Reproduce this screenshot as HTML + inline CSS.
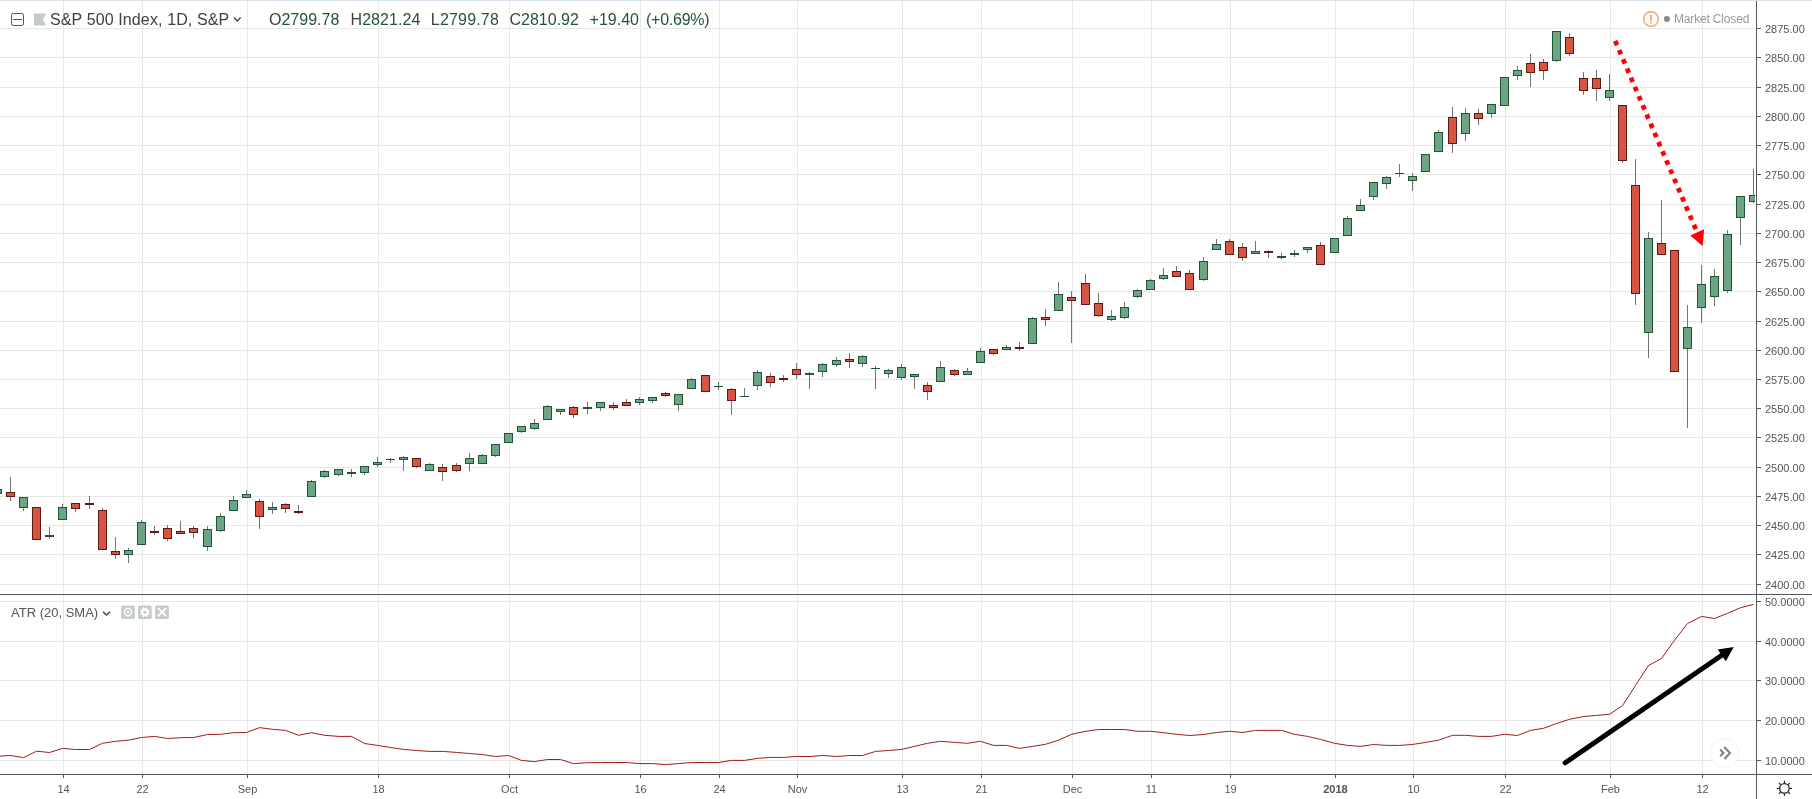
<!DOCTYPE html>
<html><head><meta charset="utf-8"><title>S&amp;P 500 Index chart</title>
<style>
html,body{margin:0;padding:0;background:#fff;}
body{width:1812px;height:799px;overflow:hidden;position:relative;font-family:"Liberation Sans",sans-serif;}
svg text{font-family:"Liberation Sans",sans-serif;}
</style></head><body>
<svg width="1812" height="799" viewBox="0 0 1812 799" style="position:absolute;left:0;top:0;will-change:transform">
<rect width="1812" height="799" fill="#fff"/>
<rect x="0" y="0" width="1812" height="1" fill="#dcdfec"/>
<g fill="#e8e8e8" shape-rendering="crispEdges">
<rect x="0" y="28" width="1755" height="1"/>
<rect x="0" y="57" width="1755" height="1"/>
<rect x="0" y="87" width="1755" height="1"/>
<rect x="0" y="116" width="1755" height="1"/>
<rect x="0" y="145" width="1755" height="1"/>
<rect x="0" y="174" width="1755" height="1"/>
<rect x="0" y="204" width="1755" height="1"/>
<rect x="0" y="233" width="1755" height="1"/>
<rect x="0" y="262" width="1755" height="1"/>
<rect x="0" y="291" width="1755" height="1"/>
<rect x="0" y="321" width="1755" height="1"/>
<rect x="0" y="350" width="1755" height="1"/>
<rect x="0" y="379" width="1755" height="1"/>
<rect x="0" y="408" width="1755" height="1"/>
<rect x="0" y="437" width="1755" height="1"/>
<rect x="0" y="467" width="1755" height="1"/>
<rect x="0" y="496" width="1755" height="1"/>
<rect x="0" y="525" width="1755" height="1"/>
<rect x="0" y="554" width="1755" height="1"/>
<rect x="0" y="584" width="1755" height="1"/>
<rect x="0" y="601" width="1755" height="1"/>
<rect x="0" y="641" width="1755" height="1"/>
<rect x="0" y="680" width="1755" height="1"/>
<rect x="0" y="720" width="1755" height="1"/>
<rect x="0" y="760" width="1755" height="1"/>
<rect x="63" y="1" width="1" height="773"/>
<rect x="142" y="1" width="1" height="773"/>
<rect x="247" y="1" width="1" height="773"/>
<rect x="378" y="1" width="1" height="773"/>
<rect x="509" y="1" width="1" height="773"/>
<rect x="640" y="1" width="1" height="773"/>
<rect x="719" y="1" width="1" height="773"/>
<rect x="797" y="1" width="1" height="773"/>
<rect x="902" y="1" width="1" height="773"/>
<rect x="981" y="1" width="1" height="773"/>
<rect x="1072" y="1" width="1" height="773"/>
<rect x="1151" y="1" width="1" height="773"/>
<rect x="1230" y="1" width="1" height="773"/>
<rect x="1335" y="1" width="1" height="773"/>
<rect x="1413" y="1" width="1" height="773"/>
<rect x="1505" y="1" width="1" height="773"/>
<rect x="1610" y="1" width="1" height="773"/>
<rect x="1702" y="1" width="1" height="773"/>
</g>
<defs><clipPath id="cp"><rect x="0" y="1" width="1755" height="593"/></clipPath><clipPath id="cp2"><rect x="0" y="595" width="1755" height="179"/></clipPath></defs>
<g clip-path="url(#cp)" shape-rendering="crispEdges">
<rect x="-3" y="489" width="1" height="5" fill="#737375"/>
<rect x="-7" y="489" width="9" height="5" fill="#225437"/>
<rect x="-6" y="490" width="7" height="3" fill="#6ba583"/>
<rect x="10" y="477" width="1" height="24" fill="#737375"/>
<rect x="6" y="492" width="9" height="5" fill="#5b1a13"/>
<rect x="7" y="493" width="7" height="3" fill="#d75442"/>
<rect x="23" y="497" width="1" height="14" fill="#737375"/>
<rect x="19" y="497" width="9" height="11" fill="#225437"/>
<rect x="20" y="498" width="7" height="9" fill="#6ba583"/>
<rect x="36" y="507" width="1" height="33" fill="#737375"/>
<rect x="32" y="507" width="9" height="33" fill="#5b1a13"/>
<rect x="33" y="508" width="7" height="31" fill="#d75442"/>
<rect x="49" y="527" width="1" height="12" fill="#737375"/>
<rect x="45" y="535" width="9" height="2" fill="#225437"/>
<rect x="62" y="504" width="1" height="16" fill="#737375"/>
<rect x="58" y="507" width="9" height="13" fill="#225437"/>
<rect x="59" y="508" width="7" height="11" fill="#6ba583"/>
<rect x="75" y="503" width="1" height="9" fill="#737375"/>
<rect x="71" y="503" width="9" height="6" fill="#5b1a13"/>
<rect x="72" y="504" width="7" height="4" fill="#d75442"/>
<rect x="89" y="496" width="1" height="13" fill="#737375"/>
<rect x="85" y="503" width="9" height="2" fill="#5b1a13"/>
<rect x="102" y="508" width="1" height="42" fill="#737375"/>
<rect x="98" y="510" width="9" height="40" fill="#5b1a13"/>
<rect x="99" y="511" width="7" height="38" fill="#d75442"/>
<rect x="115" y="537" width="1" height="22" fill="#737375"/>
<rect x="111" y="551" width="9" height="4" fill="#5b1a13"/>
<rect x="112" y="552" width="7" height="2" fill="#d75442"/>
<rect x="128" y="548" width="1" height="15" fill="#737375"/>
<rect x="124" y="550" width="9" height="5" fill="#225437"/>
<rect x="125" y="551" width="7" height="3" fill="#6ba583"/>
<rect x="141" y="520" width="1" height="25" fill="#737375"/>
<rect x="137" y="522" width="9" height="23" fill="#225437"/>
<rect x="138" y="523" width="7" height="21" fill="#6ba583"/>
<rect x="154" y="526" width="1" height="9" fill="#737375"/>
<rect x="150" y="531" width="9" height="2" fill="#5b1a13"/>
<rect x="167" y="525" width="1" height="16" fill="#737375"/>
<rect x="163" y="528" width="9" height="11" fill="#5b1a13"/>
<rect x="164" y="529" width="7" height="9" fill="#d75442"/>
<rect x="180" y="521" width="1" height="13" fill="#737375"/>
<rect x="176" y="531" width="9" height="3" fill="#5b1a13"/>
<rect x="177" y="532" width="7" height="1" fill="#d75442"/>
<rect x="193" y="526" width="1" height="12" fill="#737375"/>
<rect x="189" y="528" width="9" height="5" fill="#5b1a13"/>
<rect x="190" y="529" width="7" height="3" fill="#d75442"/>
<rect x="207" y="526" width="1" height="25" fill="#737375"/>
<rect x="203" y="529" width="9" height="18" fill="#225437"/>
<rect x="204" y="530" width="7" height="16" fill="#6ba583"/>
<rect x="220" y="513" width="1" height="19" fill="#737375"/>
<rect x="216" y="516" width="9" height="15" fill="#225437"/>
<rect x="217" y="517" width="7" height="13" fill="#6ba583"/>
<rect x="233" y="496" width="1" height="15" fill="#737375"/>
<rect x="229" y="500" width="9" height="11" fill="#225437"/>
<rect x="230" y="501" width="7" height="9" fill="#6ba583"/>
<rect x="246" y="490" width="1" height="8" fill="#737375"/>
<rect x="242" y="494" width="9" height="4" fill="#225437"/>
<rect x="243" y="495" width="7" height="2" fill="#6ba583"/>
<rect x="259" y="499" width="1" height="30" fill="#737375"/>
<rect x="255" y="501" width="9" height="16" fill="#5b1a13"/>
<rect x="256" y="502" width="7" height="14" fill="#d75442"/>
<rect x="272" y="502" width="1" height="12" fill="#737375"/>
<rect x="268" y="507" width="9" height="3" fill="#225437"/>
<rect x="269" y="508" width="7" height="1" fill="#6ba583"/>
<rect x="285" y="503" width="1" height="10" fill="#737375"/>
<rect x="281" y="504" width="9" height="5" fill="#5b1a13"/>
<rect x="282" y="505" width="7" height="3" fill="#d75442"/>
<rect x="298" y="505" width="1" height="9" fill="#737375"/>
<rect x="294" y="511" width="9" height="2" fill="#5b1a13"/>
<rect x="311" y="480" width="1" height="17" fill="#737375"/>
<rect x="307" y="481" width="9" height="16" fill="#225437"/>
<rect x="308" y="482" width="7" height="14" fill="#6ba583"/>
<rect x="324" y="470" width="1" height="8" fill="#737375"/>
<rect x="320" y="471" width="9" height="6" fill="#225437"/>
<rect x="321" y="472" width="7" height="4" fill="#6ba583"/>
<rect x="338" y="469" width="1" height="7" fill="#737375"/>
<rect x="334" y="469" width="9" height="6" fill="#225437"/>
<rect x="335" y="470" width="7" height="4" fill="#6ba583"/>
<rect x="351" y="469" width="1" height="8" fill="#737375"/>
<rect x="347" y="472" width="9" height="2" fill="#225437"/>
<rect x="364" y="466" width="1" height="9" fill="#737375"/>
<rect x="360" y="466" width="9" height="7" fill="#225437"/>
<rect x="361" y="467" width="7" height="5" fill="#6ba583"/>
<rect x="377" y="457" width="1" height="10" fill="#737375"/>
<rect x="373" y="462" width="9" height="3" fill="#225437"/>
<rect x="374" y="463" width="7" height="1" fill="#6ba583"/>
<rect x="390" y="458" width="1" height="5" fill="#737375"/>
<rect x="386" y="459" width="9" height="1" fill="#225437"/>
<rect x="403" y="456" width="1" height="15" fill="#737375"/>
<rect x="399" y="457" width="9" height="3" fill="#225437"/>
<rect x="400" y="458" width="7" height="1" fill="#6ba583"/>
<rect x="416" y="458" width="1" height="10" fill="#737375"/>
<rect x="412" y="458" width="9" height="9" fill="#5b1a13"/>
<rect x="413" y="459" width="7" height="7" fill="#d75442"/>
<rect x="429" y="463" width="1" height="8" fill="#737375"/>
<rect x="425" y="464" width="9" height="7" fill="#225437"/>
<rect x="426" y="465" width="7" height="5" fill="#6ba583"/>
<rect x="442" y="464" width="1" height="17" fill="#737375"/>
<rect x="438" y="467" width="9" height="5" fill="#5b1a13"/>
<rect x="439" y="468" width="7" height="3" fill="#d75442"/>
<rect x="456" y="463" width="1" height="9" fill="#737375"/>
<rect x="452" y="465" width="9" height="6" fill="#5b1a13"/>
<rect x="453" y="466" width="7" height="4" fill="#d75442"/>
<rect x="469" y="453" width="1" height="18" fill="#737375"/>
<rect x="465" y="458" width="9" height="6" fill="#225437"/>
<rect x="466" y="459" width="7" height="4" fill="#6ba583"/>
<rect x="482" y="454" width="1" height="10" fill="#737375"/>
<rect x="478" y="455" width="9" height="9" fill="#225437"/>
<rect x="479" y="456" width="7" height="7" fill="#6ba583"/>
<rect x="495" y="444" width="1" height="13" fill="#737375"/>
<rect x="491" y="444" width="9" height="12" fill="#225437"/>
<rect x="492" y="445" width="7" height="10" fill="#6ba583"/>
<rect x="508" y="433" width="1" height="10" fill="#737375"/>
<rect x="504" y="433" width="9" height="10" fill="#225437"/>
<rect x="505" y="434" width="7" height="8" fill="#6ba583"/>
<rect x="521" y="426" width="1" height="7" fill="#737375"/>
<rect x="517" y="426" width="9" height="6" fill="#225437"/>
<rect x="518" y="427" width="7" height="4" fill="#6ba583"/>
<rect x="534" y="419" width="1" height="11" fill="#737375"/>
<rect x="530" y="423" width="9" height="6" fill="#225437"/>
<rect x="531" y="424" width="7" height="4" fill="#6ba583"/>
<rect x="547" y="405" width="1" height="15" fill="#737375"/>
<rect x="543" y="406" width="9" height="14" fill="#225437"/>
<rect x="544" y="407" width="7" height="12" fill="#6ba583"/>
<rect x="560" y="409" width="1" height="6" fill="#737375"/>
<rect x="556" y="409" width="9" height="3" fill="#225437"/>
<rect x="557" y="410" width="7" height="1" fill="#6ba583"/>
<rect x="573" y="406" width="1" height="12" fill="#737375"/>
<rect x="569" y="407" width="9" height="8" fill="#5b1a13"/>
<rect x="570" y="408" width="7" height="6" fill="#d75442"/>
<rect x="587" y="402" width="1" height="12" fill="#737375"/>
<rect x="583" y="407" width="9" height="2" fill="#225437"/>
<rect x="600" y="402" width="1" height="9" fill="#737375"/>
<rect x="596" y="402" width="9" height="6" fill="#225437"/>
<rect x="597" y="403" width="7" height="4" fill="#6ba583"/>
<rect x="613" y="402" width="1" height="8" fill="#737375"/>
<rect x="609" y="405" width="9" height="3" fill="#5b1a13"/>
<rect x="610" y="406" width="7" height="1" fill="#d75442"/>
<rect x="626" y="399" width="1" height="7" fill="#737375"/>
<rect x="622" y="402" width="9" height="4" fill="#5b1a13"/>
<rect x="623" y="403" width="7" height="2" fill="#d75442"/>
<rect x="639" y="397" width="1" height="8" fill="#737375"/>
<rect x="635" y="399" width="9" height="4" fill="#225437"/>
<rect x="636" y="400" width="7" height="2" fill="#6ba583"/>
<rect x="652" y="397" width="1" height="6" fill="#737375"/>
<rect x="648" y="397" width="9" height="4" fill="#225437"/>
<rect x="649" y="398" width="7" height="2" fill="#6ba583"/>
<rect x="665" y="392" width="1" height="5" fill="#737375"/>
<rect x="661" y="393" width="9" height="3" fill="#5b1a13"/>
<rect x="662" y="394" width="7" height="1" fill="#d75442"/>
<rect x="678" y="394" width="1" height="17" fill="#737375"/>
<rect x="674" y="394" width="9" height="11" fill="#225437"/>
<rect x="675" y="395" width="7" height="9" fill="#6ba583"/>
<rect x="691" y="378" width="1" height="11" fill="#737375"/>
<rect x="687" y="379" width="9" height="10" fill="#225437"/>
<rect x="688" y="380" width="7" height="8" fill="#6ba583"/>
<rect x="705" y="375" width="1" height="17" fill="#737375"/>
<rect x="701" y="375" width="9" height="17" fill="#5b1a13"/>
<rect x="702" y="376" width="7" height="15" fill="#d75442"/>
<rect x="718" y="382" width="1" height="8" fill="#737375"/>
<rect x="714" y="386" width="9" height="1" fill="#225437"/>
<rect x="731" y="388" width="1" height="27" fill="#737375"/>
<rect x="727" y="389" width="9" height="12" fill="#5b1a13"/>
<rect x="728" y="390" width="7" height="10" fill="#d75442"/>
<rect x="744" y="388" width="1" height="9" fill="#737375"/>
<rect x="740" y="396" width="9" height="1" fill="#225437"/>
<rect x="757" y="370" width="1" height="20" fill="#737375"/>
<rect x="753" y="372" width="9" height="14" fill="#225437"/>
<rect x="754" y="373" width="7" height="12" fill="#6ba583"/>
<rect x="770" y="373" width="1" height="14" fill="#737375"/>
<rect x="766" y="376" width="9" height="7" fill="#5b1a13"/>
<rect x="767" y="377" width="7" height="5" fill="#d75442"/>
<rect x="783" y="375" width="1" height="7" fill="#737375"/>
<rect x="779" y="378" width="9" height="2" fill="#5b1a13"/>
<rect x="796" y="363" width="1" height="16" fill="#737375"/>
<rect x="792" y="369" width="9" height="6" fill="#5b1a13"/>
<rect x="793" y="370" width="7" height="4" fill="#d75442"/>
<rect x="809" y="372" width="1" height="17" fill="#737375"/>
<rect x="805" y="373" width="9" height="2" fill="#225437"/>
<rect x="822" y="363" width="1" height="14" fill="#737375"/>
<rect x="818" y="364" width="9" height="8" fill="#225437"/>
<rect x="819" y="365" width="7" height="6" fill="#6ba583"/>
<rect x="836" y="357" width="1" height="10" fill="#737375"/>
<rect x="832" y="360" width="9" height="5" fill="#225437"/>
<rect x="833" y="361" width="7" height="3" fill="#6ba583"/>
<rect x="849" y="353" width="1" height="15" fill="#737375"/>
<rect x="845" y="359" width="9" height="3" fill="#5b1a13"/>
<rect x="846" y="360" width="7" height="1" fill="#d75442"/>
<rect x="862" y="355" width="1" height="12" fill="#737375"/>
<rect x="858" y="356" width="9" height="8" fill="#225437"/>
<rect x="859" y="357" width="7" height="6" fill="#6ba583"/>
<rect x="875" y="366" width="1" height="23" fill="#737375"/>
<rect x="871" y="368" width="9" height="1" fill="#225437"/>
<rect x="888" y="369" width="1" height="9" fill="#737375"/>
<rect x="884" y="370" width="9" height="4" fill="#225437"/>
<rect x="885" y="371" width="7" height="2" fill="#6ba583"/>
<rect x="901" y="364" width="1" height="16" fill="#737375"/>
<rect x="897" y="367" width="9" height="11" fill="#225437"/>
<rect x="898" y="368" width="7" height="9" fill="#6ba583"/>
<rect x="914" y="374" width="1" height="15" fill="#737375"/>
<rect x="910" y="374" width="9" height="3" fill="#225437"/>
<rect x="911" y="375" width="7" height="1" fill="#6ba583"/>
<rect x="927" y="382" width="1" height="18" fill="#737375"/>
<rect x="923" y="385" width="9" height="7" fill="#5b1a13"/>
<rect x="924" y="386" width="7" height="5" fill="#d75442"/>
<rect x="940" y="361" width="1" height="21" fill="#737375"/>
<rect x="936" y="367" width="9" height="15" fill="#225437"/>
<rect x="937" y="368" width="7" height="13" fill="#6ba583"/>
<rect x="954" y="369" width="1" height="7" fill="#737375"/>
<rect x="950" y="370" width="9" height="5" fill="#5b1a13"/>
<rect x="951" y="371" width="7" height="3" fill="#d75442"/>
<rect x="967" y="368" width="1" height="7" fill="#737375"/>
<rect x="963" y="371" width="9" height="4" fill="#225437"/>
<rect x="964" y="372" width="7" height="2" fill="#6ba583"/>
<rect x="980" y="348" width="1" height="15" fill="#737375"/>
<rect x="976" y="351" width="9" height="12" fill="#225437"/>
<rect x="977" y="352" width="7" height="10" fill="#6ba583"/>
<rect x="993" y="349" width="1" height="6" fill="#737375"/>
<rect x="989" y="349" width="9" height="5" fill="#5b1a13"/>
<rect x="990" y="350" width="7" height="3" fill="#d75442"/>
<rect x="1006" y="345" width="1" height="5" fill="#737375"/>
<rect x="1002" y="347" width="9" height="3" fill="#225437"/>
<rect x="1003" y="348" width="7" height="1" fill="#6ba583"/>
<rect x="1019" y="342" width="1" height="9" fill="#737375"/>
<rect x="1015" y="347" width="9" height="2" fill="#5b1a13"/>
<rect x="1032" y="317" width="1" height="27" fill="#737375"/>
<rect x="1028" y="318" width="9" height="26" fill="#225437"/>
<rect x="1029" y="319" width="7" height="24" fill="#6ba583"/>
<rect x="1045" y="309" width="1" height="17" fill="#737375"/>
<rect x="1041" y="317" width="9" height="3" fill="#5b1a13"/>
<rect x="1042" y="318" width="7" height="1" fill="#d75442"/>
<rect x="1058" y="282" width="1" height="29" fill="#737375"/>
<rect x="1054" y="294" width="9" height="17" fill="#225437"/>
<rect x="1055" y="295" width="7" height="15" fill="#6ba583"/>
<rect x="1071" y="291" width="1" height="52" fill="#737375"/>
<rect x="1067" y="297" width="9" height="4" fill="#5b1a13"/>
<rect x="1068" y="298" width="7" height="2" fill="#d75442"/>
<rect x="1085" y="274" width="1" height="31" fill="#737375"/>
<rect x="1081" y="283" width="9" height="22" fill="#5b1a13"/>
<rect x="1082" y="284" width="7" height="20" fill="#d75442"/>
<rect x="1098" y="293" width="1" height="24" fill="#737375"/>
<rect x="1094" y="303" width="9" height="13" fill="#5b1a13"/>
<rect x="1095" y="304" width="7" height="11" fill="#d75442"/>
<rect x="1111" y="310" width="1" height="11" fill="#737375"/>
<rect x="1107" y="316" width="9" height="4" fill="#225437"/>
<rect x="1108" y="317" width="7" height="2" fill="#6ba583"/>
<rect x="1124" y="302" width="1" height="17" fill="#737375"/>
<rect x="1120" y="307" width="9" height="11" fill="#225437"/>
<rect x="1121" y="308" width="7" height="9" fill="#6ba583"/>
<rect x="1137" y="289" width="1" height="9" fill="#737375"/>
<rect x="1133" y="290" width="9" height="7" fill="#225437"/>
<rect x="1134" y="291" width="7" height="5" fill="#6ba583"/>
<rect x="1150" y="279" width="1" height="11" fill="#737375"/>
<rect x="1146" y="280" width="9" height="10" fill="#225437"/>
<rect x="1147" y="281" width="7" height="8" fill="#6ba583"/>
<rect x="1163" y="268" width="1" height="12" fill="#737375"/>
<rect x="1159" y="275" width="9" height="4" fill="#225437"/>
<rect x="1160" y="276" width="7" height="2" fill="#6ba583"/>
<rect x="1176" y="266" width="1" height="11" fill="#737375"/>
<rect x="1172" y="271" width="9" height="6" fill="#5b1a13"/>
<rect x="1173" y="272" width="7" height="4" fill="#d75442"/>
<rect x="1189" y="270" width="1" height="20" fill="#737375"/>
<rect x="1185" y="273" width="9" height="17" fill="#5b1a13"/>
<rect x="1186" y="274" width="7" height="15" fill="#d75442"/>
<rect x="1203" y="257" width="1" height="24" fill="#737375"/>
<rect x="1199" y="261" width="9" height="19" fill="#225437"/>
<rect x="1200" y="262" width="7" height="17" fill="#6ba583"/>
<rect x="1216" y="239" width="1" height="11" fill="#737375"/>
<rect x="1212" y="244" width="9" height="6" fill="#225437"/>
<rect x="1213" y="245" width="7" height="4" fill="#6ba583"/>
<rect x="1229" y="239" width="1" height="16" fill="#737375"/>
<rect x="1225" y="241" width="9" height="14" fill="#5b1a13"/>
<rect x="1226" y="242" width="7" height="12" fill="#d75442"/>
<rect x="1242" y="243" width="1" height="18" fill="#737375"/>
<rect x="1238" y="247" width="9" height="11" fill="#5b1a13"/>
<rect x="1239" y="248" width="7" height="9" fill="#d75442"/>
<rect x="1255" y="241" width="1" height="13" fill="#737375"/>
<rect x="1251" y="251" width="9" height="3" fill="#225437"/>
<rect x="1252" y="252" width="7" height="1" fill="#6ba583"/>
<rect x="1268" y="250" width="1" height="8" fill="#737375"/>
<rect x="1264" y="251" width="9" height="2" fill="#5b1a13"/>
<rect x="1281" y="253" width="1" height="6" fill="#737375"/>
<rect x="1277" y="256" width="9" height="2" fill="#225437"/>
<rect x="1294" y="250" width="1" height="7" fill="#737375"/>
<rect x="1290" y="253" width="9" height="2" fill="#225437"/>
<rect x="1307" y="247" width="1" height="6" fill="#737375"/>
<rect x="1303" y="247" width="9" height="3" fill="#225437"/>
<rect x="1304" y="248" width="7" height="1" fill="#6ba583"/>
<rect x="1320" y="242" width="1" height="23" fill="#737375"/>
<rect x="1316" y="245" width="9" height="20" fill="#5b1a13"/>
<rect x="1317" y="246" width="7" height="18" fill="#d75442"/>
<rect x="1334" y="238" width="1" height="15" fill="#737375"/>
<rect x="1330" y="238" width="9" height="15" fill="#225437"/>
<rect x="1331" y="239" width="7" height="13" fill="#6ba583"/>
<rect x="1347" y="216" width="1" height="20" fill="#737375"/>
<rect x="1343" y="218" width="9" height="18" fill="#225437"/>
<rect x="1344" y="219" width="7" height="16" fill="#6ba583"/>
<rect x="1360" y="199" width="1" height="12" fill="#737375"/>
<rect x="1356" y="205" width="9" height="6" fill="#225437"/>
<rect x="1357" y="206" width="7" height="4" fill="#6ba583"/>
<rect x="1373" y="182" width="1" height="18" fill="#737375"/>
<rect x="1369" y="182" width="9" height="15" fill="#225437"/>
<rect x="1370" y="183" width="7" height="13" fill="#6ba583"/>
<rect x="1386" y="176" width="1" height="13" fill="#737375"/>
<rect x="1382" y="177" width="9" height="7" fill="#225437"/>
<rect x="1383" y="178" width="7" height="5" fill="#6ba583"/>
<rect x="1399" y="164" width="1" height="13" fill="#737375"/>
<rect x="1395" y="173" width="9" height="1" fill="#225437"/>
<rect x="1412" y="173" width="1" height="18" fill="#737375"/>
<rect x="1408" y="176" width="9" height="5" fill="#225437"/>
<rect x="1409" y="177" width="7" height="3" fill="#6ba583"/>
<rect x="1425" y="154" width="1" height="18" fill="#737375"/>
<rect x="1421" y="154" width="9" height="18" fill="#225437"/>
<rect x="1422" y="155" width="7" height="16" fill="#6ba583"/>
<rect x="1438" y="130" width="1" height="22" fill="#737375"/>
<rect x="1434" y="132" width="9" height="20" fill="#225437"/>
<rect x="1435" y="133" width="7" height="18" fill="#6ba583"/>
<rect x="1452" y="107" width="1" height="46" fill="#737375"/>
<rect x="1448" y="117" width="9" height="27" fill="#5b1a13"/>
<rect x="1449" y="118" width="7" height="25" fill="#d75442"/>
<rect x="1465" y="108" width="1" height="33" fill="#737375"/>
<rect x="1461" y="113" width="9" height="21" fill="#225437"/>
<rect x="1462" y="114" width="7" height="19" fill="#6ba583"/>
<rect x="1478" y="109" width="1" height="16" fill="#737375"/>
<rect x="1474" y="113" width="9" height="6" fill="#5b1a13"/>
<rect x="1475" y="114" width="7" height="4" fill="#d75442"/>
<rect x="1491" y="104" width="1" height="14" fill="#737375"/>
<rect x="1487" y="104" width="9" height="10" fill="#225437"/>
<rect x="1488" y="105" width="7" height="8" fill="#6ba583"/>
<rect x="1504" y="77" width="1" height="29" fill="#737375"/>
<rect x="1500" y="77" width="9" height="29" fill="#225437"/>
<rect x="1501" y="78" width="7" height="27" fill="#6ba583"/>
<rect x="1517" y="66" width="1" height="14" fill="#737375"/>
<rect x="1513" y="70" width="9" height="6" fill="#225437"/>
<rect x="1514" y="71" width="7" height="4" fill="#6ba583"/>
<rect x="1530" y="54" width="1" height="33" fill="#737375"/>
<rect x="1526" y="63" width="9" height="10" fill="#5b1a13"/>
<rect x="1527" y="64" width="7" height="8" fill="#d75442"/>
<rect x="1543" y="59" width="1" height="21" fill="#737375"/>
<rect x="1539" y="62" width="9" height="9" fill="#5b1a13"/>
<rect x="1540" y="63" width="7" height="7" fill="#d75442"/>
<rect x="1556" y="31" width="1" height="31" fill="#737375"/>
<rect x="1552" y="31" width="9" height="30" fill="#225437"/>
<rect x="1553" y="32" width="7" height="28" fill="#6ba583"/>
<rect x="1569" y="33" width="1" height="23" fill="#737375"/>
<rect x="1565" y="37" width="9" height="17" fill="#5b1a13"/>
<rect x="1566" y="38" width="7" height="15" fill="#d75442"/>
<rect x="1583" y="72" width="1" height="23" fill="#737375"/>
<rect x="1579" y="78" width="9" height="13" fill="#5b1a13"/>
<rect x="1580" y="79" width="7" height="11" fill="#d75442"/>
<rect x="1596" y="70" width="1" height="31" fill="#737375"/>
<rect x="1592" y="78" width="9" height="11" fill="#5b1a13"/>
<rect x="1593" y="79" width="7" height="9" fill="#d75442"/>
<rect x="1609" y="74" width="1" height="27" fill="#737375"/>
<rect x="1605" y="90" width="9" height="8" fill="#225437"/>
<rect x="1606" y="91" width="7" height="6" fill="#6ba583"/>
<rect x="1622" y="105" width="1" height="58" fill="#737375"/>
<rect x="1618" y="105" width="9" height="56" fill="#5b1a13"/>
<rect x="1619" y="106" width="7" height="54" fill="#d75442"/>
<rect x="1635" y="159" width="1" height="146" fill="#737375"/>
<rect x="1631" y="185" width="9" height="109" fill="#5b1a13"/>
<rect x="1632" y="186" width="7" height="107" fill="#d75442"/>
<rect x="1648" y="232" width="1" height="126" fill="#737375"/>
<rect x="1644" y="238" width="9" height="95" fill="#225437"/>
<rect x="1645" y="239" width="7" height="93" fill="#6ba583"/>
<rect x="1661" y="200" width="1" height="55" fill="#737375"/>
<rect x="1657" y="243" width="9" height="12" fill="#5b1a13"/>
<rect x="1658" y="244" width="7" height="10" fill="#d75442"/>
<rect x="1674" y="250" width="1" height="122" fill="#737375"/>
<rect x="1670" y="250" width="9" height="122" fill="#5b1a13"/>
<rect x="1671" y="251" width="7" height="120" fill="#d75442"/>
<rect x="1687" y="305" width="1" height="123" fill="#737375"/>
<rect x="1683" y="327" width="9" height="22" fill="#225437"/>
<rect x="1684" y="328" width="7" height="20" fill="#6ba583"/>
<rect x="1701" y="265" width="1" height="58" fill="#737375"/>
<rect x="1697" y="284" width="9" height="24" fill="#225437"/>
<rect x="1698" y="285" width="7" height="22" fill="#6ba583"/>
<rect x="1714" y="269" width="1" height="37" fill="#737375"/>
<rect x="1710" y="276" width="9" height="21" fill="#225437"/>
<rect x="1711" y="277" width="7" height="19" fill="#6ba583"/>
<rect x="1727" y="230" width="1" height="63" fill="#737375"/>
<rect x="1723" y="234" width="9" height="57" fill="#225437"/>
<rect x="1724" y="235" width="7" height="55" fill="#6ba583"/>
<rect x="1740" y="196" width="1" height="49" fill="#737375"/>
<rect x="1736" y="196" width="9" height="22" fill="#225437"/>
<rect x="1737" y="197" width="7" height="20" fill="#6ba583"/>
<rect x="1753" y="169" width="1" height="34" fill="#737375"/>
<rect x="1749" y="195" width="9" height="7" fill="#225437"/>
<rect x="1750" y="196" width="7" height="5" fill="#6ba583"/>
</g>
<g clip-path="url(#cp2)"><polyline points="-2.5,756.3 10.5,755.5 23.5,757.6 36.5,751.2 49.5,752.5 62.5,748.4 75.5,749.5 89.5,749.5 102.5,743.3 115.5,741.3 128.5,740.2 141.5,737.5 154.5,736.4 167.5,738.5 180.5,737.7 193.5,737.5 207.5,734.5 220.5,734.3 233.5,732.7 246.5,732.5 259.5,727.6 272.5,729.3 285.5,730.4 298.5,735.3 311.5,732.7 324.5,735.3 338.5,736.4 351.5,736.4 364.5,743.5 377.5,745.4 390.5,747.5 403.5,749.4 416.5,750.5 429.5,751.4 442.5,751.4 456.5,752.4 469.5,753.5 482.5,754.6 495.5,756.5 508.5,755.5 521.5,760.4 534.5,761.6 547.5,759.5 560.5,759.5 573.5,763.6 587.5,762.7 600.5,762.5 613.5,762.5 626.5,762.5 639.5,763.6 652.5,763.6 665.5,764.6 678.5,763.6 691.5,762.5 705.5,762.5 718.5,762.5 731.5,760.4 744.5,760.4 757.5,758.4 770.5,757.4 783.5,757.4 796.5,756.5 809.5,756.5 822.5,755.5 836.5,756.5 849.5,755.5 862.5,755.5 875.5,751.4 888.5,750.5 901.5,749.4 914.5,746.4 927.5,743.3 940.5,741.3 954.5,742.4 967.5,743.3 980.5,741.3 993.5,745.4 1006.5,745.4 1019.5,748.4 1032.5,746.4 1045.5,744.3 1058.5,740.2 1071.5,734.3 1085.5,731.3 1098.5,729.5 1111.5,729.5 1124.5,729.5 1137.5,731.3 1150.5,731.3 1163.5,732.7 1176.5,734.3 1189.5,735.5 1203.5,734.5 1216.5,732.5 1229.5,731.3 1242.5,732.5 1255.5,730.4 1268.5,730.4 1281.5,730.4 1294.5,734.3 1307.5,736.4 1320.5,739.4 1334.5,743.3 1347.5,745.4 1360.5,746.4 1373.5,744.5 1386.5,745.4 1399.5,745.4 1412.5,744.5 1425.5,742.4 1438.5,740.2 1452.5,735.3 1465.5,735.3 1478.5,736.4 1491.5,736.4 1504.5,734.3 1517.5,735.5 1530.5,730.4 1543.5,728.3 1556.5,723.5 1569.5,719.3 1583.5,716.5 1596.5,715.4 1609.5,714.3 1622.5,705.6 1635.5,685.4 1648.5,665.5 1661.5,658.5 1674.5,640.3 1687.5,623.5 1701.5,616.4 1714.5,618.5 1727.5,613.3 1740.5,607.7 1753.5,604.4" fill="none" stroke="#a01a1a" stroke-width="1" stroke-linejoin="round"/></g>
<g shape-rendering="crispEdges" fill="#555555">
<rect x="0" y="594" width="1812" height="1"/>
<rect x="0" y="774" width="1812" height="1"/>
<rect x="1756" y="1" width="1" height="798"/>
</g>
<g fill="#555555" shape-rendering="crispEdges">
<rect x="1757" y="28" width="4" height="1"/>
<rect x="1757" y="57" width="4" height="1"/>
<rect x="1757" y="87" width="4" height="1"/>
<rect x="1757" y="116" width="4" height="1"/>
<rect x="1757" y="145" width="4" height="1"/>
<rect x="1757" y="174" width="4" height="1"/>
<rect x="1757" y="204" width="4" height="1"/>
<rect x="1757" y="233" width="4" height="1"/>
<rect x="1757" y="262" width="4" height="1"/>
<rect x="1757" y="291" width="4" height="1"/>
<rect x="1757" y="321" width="4" height="1"/>
<rect x="1757" y="350" width="4" height="1"/>
<rect x="1757" y="379" width="4" height="1"/>
<rect x="1757" y="408" width="4" height="1"/>
<rect x="1757" y="437" width="4" height="1"/>
<rect x="1757" y="467" width="4" height="1"/>
<rect x="1757" y="496" width="4" height="1"/>
<rect x="1757" y="525" width="4" height="1"/>
<rect x="1757" y="554" width="4" height="1"/>
<rect x="1757" y="584" width="4" height="1"/>
<rect x="1757" y="601" width="4" height="1"/>
<rect x="1757" y="641" width="4" height="1"/>
<rect x="1757" y="680" width="4" height="1"/>
<rect x="1757" y="720" width="4" height="1"/>
<rect x="1757" y="760" width="4" height="1"/>
<rect x="63" y="775" width="1" height="3"/>
<rect x="142" y="775" width="1" height="3"/>
<rect x="247" y="775" width="1" height="3"/>
<rect x="378" y="775" width="1" height="3"/>
<rect x="509" y="775" width="1" height="3"/>
<rect x="640" y="775" width="1" height="3"/>
<rect x="719" y="775" width="1" height="3"/>
<rect x="797" y="775" width="1" height="3"/>
<rect x="902" y="775" width="1" height="3"/>
<rect x="981" y="775" width="1" height="3"/>
<rect x="1072" y="775" width="1" height="3"/>
<rect x="1151" y="775" width="1" height="3"/>
<rect x="1230" y="775" width="1" height="3"/>
<rect x="1335" y="775" width="1" height="3"/>
<rect x="1413" y="775" width="1" height="3"/>
<rect x="1505" y="775" width="1" height="3"/>
<rect x="1610" y="775" width="1" height="3"/>
<rect x="1702" y="775" width="1" height="3"/>
</g>
<g font-family="Liberation Sans, sans-serif" font-size="11" fill="#555555">
<text x="1765" y="33.0">2875.00</text>
<text x="1765" y="62.0">2850.00</text>
<text x="1765" y="92.0">2825.00</text>
<text x="1765" y="121.0">2800.00</text>
<text x="1765" y="150.0">2775.00</text>
<text x="1765" y="179.0">2750.00</text>
<text x="1765" y="209.0">2725.00</text>
<text x="1765" y="238.0">2700.00</text>
<text x="1765" y="267.0">2675.00</text>
<text x="1765" y="296.0">2650.00</text>
<text x="1765" y="326.0">2625.00</text>
<text x="1765" y="355.0">2600.00</text>
<text x="1765" y="384.0">2575.00</text>
<text x="1765" y="413.0">2550.00</text>
<text x="1765" y="442.0">2525.00</text>
<text x="1765" y="472.0">2500.00</text>
<text x="1765" y="501.0">2475.00</text>
<text x="1765" y="530.0">2450.00</text>
<text x="1765" y="559.0">2425.00</text>
<text x="1765" y="589.0">2400.00</text>
<text x="1765" y="606.0">50.0000</text>
<text x="1765" y="646.0">40.0000</text>
<text x="1765" y="685.0">30.0000</text>
<text x="1765" y="725.0">20.0000</text>
<text x="1765" y="765.0">10.0000</text>
<text x="63.5" y="793" text-anchor="middle">14</text>
<text x="142.5" y="793" text-anchor="middle">22</text>
<text x="247.5" y="793" text-anchor="middle">Sep</text>
<text x="378.5" y="793" text-anchor="middle">18</text>
<text x="509.5" y="793" text-anchor="middle">Oct</text>
<text x="640.5" y="793" text-anchor="middle">16</text>
<text x="719.5" y="793" text-anchor="middle">24</text>
<text x="797.5" y="793" text-anchor="middle">Nov</text>
<text x="902.5" y="793" text-anchor="middle">13</text>
<text x="981.5" y="793" text-anchor="middle">21</text>
<text x="1072.5" y="793" text-anchor="middle">Dec</text>
<text x="1151.5" y="793" text-anchor="middle">11</text>
<text x="1230.5" y="793" text-anchor="middle">19</text>
<text x="1335.5" y="793" text-anchor="middle" font-weight="bold">2018</text>
<text x="1413.5" y="793" text-anchor="middle">10</text>
<text x="1505.5" y="793" text-anchor="middle">22</text>
<text x="1610.5" y="793" text-anchor="middle">Feb</text>
<text x="1702.5" y="793" text-anchor="middle">12</text>
</g>
<g>
<line x1="1615.18" y1="40.91" x2="1695.75" y2="229.09" stroke="#ff0000" stroke-width="4.7" stroke-dasharray="4.7 5.3"/>
<polygon points="1690.3,235.5 1704.1,229.2 1702.7,245.9" fill="#ff0000"/>
</g>
<g>
<line x1="1565.2" y1="762.8" x2="1722.5" y2="654.8" stroke="#000" stroke-width="5" stroke-linecap="round"/>
<polygon points="1733.8,647.1 1717.7,649.5 1725.8,661.2" fill="#000"/>
</g>
<rect x="11.5" y="13.5" width="12" height="12" rx="1.7" fill="#fff" stroke="#555" stroke-width="1"/>
<rect x="13" y="19" width="9" height="1" fill="#555"/>
<polygon points="34,13.5 46,13.5 43,19.5 46,25.5 34,25.5" fill="#c5cacd"/>
<polyline points="234,17.5 237.3,21 240.6,17.5" fill="none" stroke="#444" stroke-width="1.4"/>
<g font-family="Liberation Sans, sans-serif" font-size="16">
<text x="50" y="25" fill="#404040" letter-spacing="0.12">S&amp;P 500 Index, 1D, S&amp;P</text>
<text x="269" y="25" letter-spacing="0"><tspan fill="#404040">O</tspan><tspan fill="#225437">2799.78</tspan></text>
<text x="350.5" y="25" letter-spacing="0.08"><tspan fill="#404040">H</tspan><tspan fill="#225437">2821.24</tspan></text>
<text x="430.8" y="25" letter-spacing="0.18"><tspan fill="#404040">L</tspan><tspan fill="#225437">2799.78</tspan></text>
<text x="509.5" y="25" letter-spacing="0"><tspan fill="#404040">C</tspan><tspan fill="#225437">2810.92</tspan></text>
<text x="589.6" y="25" fill="#225437">+19.40</text>
<text x="646" y="25" fill="#225437" letter-spacing="-0.25">(+0.69%)</text>
</g>
<circle cx="1651" cy="19" r="7.3" fill="none" stroke="#f7a164" stroke-width="1.4"/>
<rect x="1650.1" y="14.7" width="1.8" height="6.3" fill="#f7a164"/><rect x="1650.1" y="22" width="1.8" height="1.5" fill="#f7a164"/>
<circle cx="1666.9" cy="19" r="3" fill="#858c89"/>
<text x="1674" y="23" font-family="Liberation Sans, sans-serif" font-size="12" letter-spacing="-0.17" fill="#939a98">Market Closed</text>
<text x="11" y="616.7" font-family="Liberation Sans, sans-serif" font-size="13" fill="#555">ATR (20, SMA)</text>
<polyline points="103,611.8 106.5,615 110,611.8" fill="none" stroke="#444" stroke-width="1.4"/>
<rect x="121.2" y="605.5" width="13.6" height="13.4" rx="1.5" fill="#c5cacd"/>
<rect x="138.1" y="605.5" width="13.6" height="13.4" rx="1.5" fill="#c5cacd"/>
<rect x="155.2" y="605.5" width="13.6" height="13.4" rx="1.5" fill="#c5cacd"/>
<circle cx="128" cy="612.2" r="3.6" fill="none" stroke="#fff" stroke-width="1.5"/><circle cx="128" cy="612.2" r="1.3" fill="#fff"/>
<circle cx="144.9" cy="612.2" r="2.6" fill="none" stroke="#fff" stroke-width="2"/>
<g stroke="#fff" stroke-width="1.8">
<line x1="147.86" y1="613.42" x2="149.43" y2="614.08"/>
<line x1="146.12" y1="615.16" x2="146.78" y2="616.73"/>
<line x1="143.68" y1="615.16" x2="143.02" y2="616.73"/>
<line x1="141.94" y1="613.42" x2="140.37" y2="614.08"/>
<line x1="141.94" y1="610.98" x2="140.37" y2="610.32"/>
<line x1="143.68" y1="609.24" x2="143.02" y2="607.67"/>
<line x1="146.12" y1="609.24" x2="146.78" y2="607.67"/>
<line x1="147.86" y1="610.98" x2="149.43" y2="610.32"/>
</g>
<g stroke="#fff" stroke-width="1.8"><line x1="157.8" y1="608" x2="166.2" y2="616.4"/><line x1="166.2" y1="608" x2="157.8" y2="616.4"/></g>
<circle cx="1724.5" cy="752.9" r="14.5" fill="#fff" fill-opacity="0.85" stroke="#eef0f5" stroke-width="1"/>
<g fill="none" stroke="#7c8784" stroke-width="2.1"><polyline points="1720.2,749.6 1723.4,752.9 1720.2,756.2"/><polyline points="1724.2,747 1730,752.9 1724.4,759"/></g>
<circle cx="1784.4" cy="788.4" r="4.75" fill="none" stroke="#222" stroke-width="1.3"/>
<g stroke="#222" stroke-width="1.2">
<line x1="1789.80" y1="788.40" x2="1792.00" y2="788.40"/>
<line x1="1788.22" y1="792.22" x2="1789.77" y2="793.77"/>
<line x1="1784.40" y1="793.80" x2="1784.40" y2="796.00"/>
<line x1="1780.58" y1="792.22" x2="1779.03" y2="793.77"/>
<line x1="1779.00" y1="788.40" x2="1776.80" y2="788.40"/>
<line x1="1780.58" y1="784.58" x2="1779.03" y2="783.03"/>
<line x1="1784.40" y1="783.00" x2="1784.40" y2="780.80"/>
<line x1="1788.22" y1="784.58" x2="1789.77" y2="783.03"/>
</g>
</svg>
</body></html>
